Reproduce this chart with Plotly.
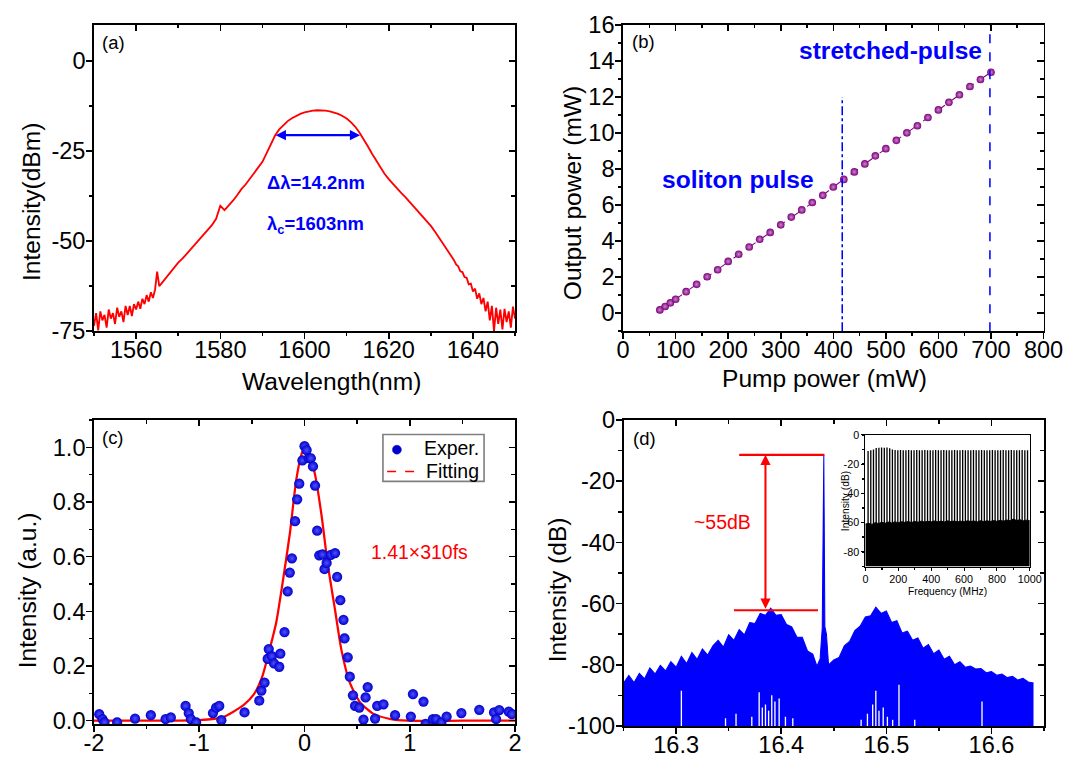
import plotly.graph_objects as go

FONT = "Liberation Sans, Arial, Helvetica, sans-serif"
# the returned picture maps page px -> picture px as  P = 0.976*page + 7 ; compensate
SC = 1 / 0.976
OFF = 7.0
FW, FH = 1089, 775


def fs(v):
    return v * SC


# ---------------- (a) optical spectrum ----------------
spec_wl = [
    1550.0, 1550.5, 1551.0, 1551.5, 1552.0, 1552.5, 1553.0, 1553.5, 1554.0, 1554.5,
    1555.0, 1555.5, 1556.0, 1556.5, 1557.0, 1557.5, 1558.0, 1558.5, 1559.0, 1559.5,
    1560.0, 1560.5, 1561.0, 1561.5, 1562.0, 1562.5, 1563.0, 1563.5, 1564.0, 1564.5,
    1565.0, 1565.5, 1566.0,
    1567, 1568, 1569, 1570, 1571, 1572, 1573, 1574, 1575, 1576,
    1577, 1578, 1579, 1580, 1581, 1582, 1583, 1584, 1585, 1586,
    1587, 1588, 1589, 1590, 1591, 1592, 1593, 1594, 1595, 1596,
    1597, 1598, 1599, 1600, 1601, 1602, 1603, 1604, 1605, 1606,
    1607, 1608, 1609, 1610, 1611, 1612, 1613, 1614, 1615, 1616,
    1617, 1618, 1619, 1620, 1621, 1622, 1623, 1624, 1625, 1626,
    1627, 1628, 1629, 1630, 1631, 1632, 1633, 1634, 1635,
    1635.5, 1636.0, 1636.5, 1637.0, 1637.5, 1638.0, 1638.5, 1639.0, 1639.5, 1640.0,
    1640.5, 1641.0, 1641.5, 1642.0, 1642.5, 1643.0, 1643.5, 1644.0, 1644.5, 1645.0,
    1645.5, 1646.0, 1646.5, 1647.0, 1647.5, 1648.0, 1648.5, 1649.0, 1649.5, 1650.0]
spec_dbm = [
    -73.5, -70.0, -74.8, -69.5, -72.0, -70.5, -74.0, -69.0, -71.5, -70.0,
    -73.0, -68.5, -71.0, -69.5, -72.5, -68.0, -70.5, -68.0, -70.8, -67.5,
    -69.0, -66.8, -68.8, -66.0, -67.5, -65.0, -66.8, -64.2, -65.8, -63.5,
    -58.5, -62.5, -61.8,
    -60.3, -59.0, -57.4, -56.0, -54.9, -53.6, -52.4, -51.0, -49.8, -48.5,
    -47.0, -45.6, -43.8, -40.2, -41.4, -40.2, -38.8, -37.3, -35.6, -34.3,
    -32.8, -31.3, -29.7, -28.0, -25.6, -23.0, -20.7, -19.0, -17.8, -16.7,
    -15.9, -15.2, -14.7, -14.3, -14.0, -13.8, -13.7, -13.7, -13.8, -14.0,
    -14.3, -14.7, -15.3, -16.0, -17.0, -18.2, -19.8, -21.6, -23.6, -25.7,
    -27.7, -29.6, -31.3, -32.8, -34.2, -35.5, -36.7, -37.9, -39.2, -40.4,
    -41.6, -42.9, -44.3, -45.8, -47.4, -49.1, -50.8, -52.6, -54.4,
    -55.3, -56.5, -57.0, -58.4, -58.6, -60.0, -60.2, -62.0, -61.8, -64.0,
    -63.2, -66.0, -64.5, -67.5, -65.8, -69.5, -66.8, -72.0, -68.0, -75.0,
    -68.5, -73.0, -69.0, -74.5, -68.8, -72.5, -69.5, -74.0, -68.2, -71.5]
fwhm_left, fwhm_right, fwhm_level = 1592.8, 1613.2, -20.6
a_ytickvals = [-75, -50, -25, 0]
a_yticktext = ["-75", "-50", "-25", "0"]

# ---------------- (b) output vs pump ----------------
pump_mw = [70, 80, 90, 100, 120, 140, 160, 180, 200, 220, 240, 260, 280, 300, 320, 340, 360,
           380, 400, 420, 440, 460, 480, 500, 520, 540, 560, 580, 600, 620, 640, 660, 680, 700]
out_mw = [0.18, 0.37, 0.57, 0.77, 1.19, 1.60, 2.02, 2.41, 2.87, 3.27, 3.67, 4.10, 4.48, 4.90,
          5.33, 5.73, 6.14, 6.54, 7.00, 7.42, 7.84, 8.28, 8.73, 9.13, 9.59, 10.01, 10.40,
          10.86, 11.28, 11.70, 12.12, 12.58, 12.97, 13.37]
soliton_pump, soliton_top = 417, 12.0
stretched_pump, stretched_top = 698, 16.0

# ---------------- (c) autocorrelation ----------------
exp_t = [-1.95, -1.92, -1.90, -1.78, -1.61, -1.46, -1.32, -1.27, -1.13, -1.10,
         -1.08, -1.03, -0.87, -0.84, -0.81, -0.79, -0.57, -0.43, -0.41, -0.38,
         -0.35, -0.34, -0.31, -0.29, -0.24, -0.23, -0.19, -0.16, -0.14, -0.12,
         -0.09, -0.07, -0.05, -0.02, 0.00, 0.02, 0.04, 0.06, 0.08, 0.10,
         0.12, 0.14, 0.17, 0.19, 0.21, 0.25, 0.29, 0.31, 0.34, 0.37,
         0.38, 0.41, 0.43, 0.46, 0.48, 0.52, 0.56, 0.58, 0.60, 0.67,
         0.69, 0.75, 0.86, 1.01, 1.03, 1.13, 1.15, 1.22, 1.25, 1.30,
         1.35, 1.49, 1.66, 1.80, 1.82, 1.85, 1.94, 1.97]
exp_i = [0.024, 0.006, -0.006, -0.006, 0.008, 0.020, 0.006, 0.012, 0.054, 0.028,
         0.006, -0.006, 0.028, 0.048, 0.054, 0.002, 0.030, 0.073, 0.110, 0.139,
         0.226, 0.262, 0.236, 0.210, 0.197, 0.245, 0.324, 0.473, 0.542, 0.594,
         0.730, 0.810, 0.867, 0.952, 1.004, 0.990, 0.960, 0.960, 0.930, 0.860,
         0.695, 0.605, 0.608, 0.554, 0.577, 0.607, 0.613, 0.526, 0.441, 0.369,
         0.301, 0.232, 0.161, 0.093, 0.054, 0.048, 0.004, 0.085, 0.123, 0.008,
         0.054, 0.060, 0.020, 0.015, 0.097, 0.070, -0.012, 0.006, 0.006, -0.006,
         0.015, 0.028, 0.040, 0.030, 0.006, 0.039, 0.033, 0.024]
fit_t = [-2.0, -1.5, -1.0, -0.78, -0.58, -0.48, -0.40, -0.34, -0.27, -0.21,
         -0.14, -0.08, -0.03, 0.0, 0.04, 0.10, 0.16, 0.22, 0.29, 0.35,
         0.43, 0.53, 0.66, 0.82, 0.98, 1.5, 2.0]
fit_i = [0.0, 0.0, 0.002, 0.012, 0.057, 0.097, 0.163, 0.248, 0.357, 0.50,
         0.683, 0.877, 0.973, 1.0, 0.98, 0.90, 0.756, 0.574, 0.405, 0.26,
         0.139, 0.066, 0.024, 0.006, 0.0, 0.0, 0.0]
c_xtickvals = [-2, -1, 0, 1, 2]
c_xticktext = ["-2", "-1", "0", "1", "2"]
legend_labels = ["Exper.", "Fitting"]

# ---------------- (d) RF spectrum ----------------
rf_f = [16.250, 16.255, 16.260, 16.265, 16.270, 16.275, 16.280, 16.285, 16.290, 16.295,
        16.300, 16.305, 16.310, 16.315, 16.320, 16.325, 16.330, 16.335, 16.340, 16.345,
        16.350, 16.355, 16.360, 16.365, 16.370, 16.375, 16.380, 16.385, 16.390, 16.395,
        16.400, 16.405, 16.410, 16.415, 16.420, 16.425, 16.430, 16.434, 16.437, 16.439,
        16.4405, 16.4415, 16.443, 16.445, 16.450, 16.455, 16.460, 16.465, 16.470, 16.475,
        16.480, 16.485, 16.490, 16.495, 16.500, 16.505, 16.510, 16.515, 16.520, 16.525,
        16.530, 16.535, 16.540, 16.545, 16.550, 16.555, 16.560, 16.565, 16.570, 16.575,
        16.580, 16.585, 16.590, 16.595, 16.600, 16.605, 16.610, 16.615, 16.620, 16.625,
        16.630, 16.635, 16.640]
rf_db = [-86.0, -83.5, -85.8, -82.8, -84.6, -81.0, -83.0, -80.2, -82.0, -79.0,
         -80.8, -77.2, -79.6, -76.0, -78.2, -74.8, -76.8, -73.8, -72.0, -74.2,
         -70.2, -72.0, -68.5, -70.2, -66.2, -66.5, -63.2, -63.8, -61.5, -63.8,
         -63.6, -66.8, -67.6, -71.0, -71.0, -75.5, -76.5, -80.5, -78.0, -68.0,
         -11.3, -67.5, -70.0, -80.0, -78.4, -77.6, -73.8, -72.4, -68.8, -67.4,
         -64.4, -64.0, -61.2, -63.2, -62.4, -66.2, -65.6, -69.6, -69.0, -72.0,
         -71.2, -74.6, -73.4, -76.4, -75.2, -78.2, -77.2, -80.0, -79.0, -80.8,
         -80.4, -81.4, -81.2, -82.6, -82.2, -83.4, -83.0, -84.2, -83.8, -85.0,
         -84.4, -85.6, -86.0]
dip_f = [16.305, 16.347, 16.357, 16.372, 16.379, 16.382, 16.385, 16.388, 16.391, 16.394,
         16.398, 16.404, 16.411, 16.476, 16.482, 16.487, 16.490, 16.493, 16.497, 16.501,
         16.506, 16.512, 16.527, 16.591]
dip_db = [-88.5, -97.5, -96.0, -97.0, -89.0, -94.0, -93.0, -95.0, -90.0, -92.0,
          -91.0, -97.0, -97.5, -98.0, -96.0, -93.0, -88.5, -95.0, -94.0, -97.0,
          -98.0, -86.5, -98.0, -92.0]
rf_floor = -100
carrier_level, carrier_from, carrier_to = -11.4, 16.36, 16.441
pedestal_level, pedestal_from, pedestal_to = -62.2, 16.355, 16.435
snr_arrow_f = 16.385
d_ytickvals = [-100, -80, -60, -40, -20, 0]
d_yticktext = ["-100", "-80", "-60", "-40", "-20", "0"]

# ---------------- inset: wide-span RF comb ----------------
comb_f = [16.4, 32.9, 49.3, 65.8, 82.2, 98.6, 115.1, 131.5, 148.0, 164.4,
          180.8, 197.3, 213.7, 230.2, 246.6, 263.0, 279.5, 295.9, 312.4, 328.8,
          345.2, 361.7, 378.1, 394.6, 411.0, 427.4, 443.9, 460.3, 476.8, 493.2,
          509.6, 526.1, 542.5, 559.0, 575.4, 591.8, 608.3, 624.7, 641.2, 657.6,
          674.0, 690.5, 706.9, 723.4, 739.8, 756.2, 772.7, 789.1, 805.6, 822.0,
          838.4, 854.9, 871.3, 887.8, 904.2, 920.6, 937.1, 953.5, 970.0, 986.4]
comb_db = [-11.0, -10.5, -10.0, -9.0, -8.8, -8.7, -8.8, -8.6, -9.2, -10.0,
           -10.3, -10.5, -10.4, -10.6, -10.5, -10.4, -10.6, -10.5, -10.4, -10.5,
           -10.6, -10.4, -10.5, -10.5, -10.6, -10.4, -10.5, -10.5, -10.4, -10.6,
           -10.5, -10.5, -10.4, -10.6, -10.5, -10.4, -10.5, -10.5, -10.6, -10.4,
           -10.5, -10.5, -10.4, -10.5, -10.6, -10.5, -10.4, -10.5, -10.5, -10.6,
           -10.4, -10.5, -10.5, -10.4, -10.6, -10.5, -10.5, -10.4, -10.5, -10.5]
comb_base = -62
floor_f = [0, 20, 40, 60, 80, 100, 120, 140, 160, 180,
           200, 220, 240, 260, 280, 300, 320, 340, 360, 380,
           400, 420, 440, 460, 480, 500, 520, 540, 560, 580,
           600, 620, 640, 660, 680, 700, 720, 740, 760, 780,
           800, 820, 840, 860, 880, 900, 920, 940, 960, 980, 1000]
floor_db = [-61.0, -60.5, -61.2, -60.0, -60.6, -59.8, -60.4, -59.6, -60.2, -59.5,
            -60.0, -59.4, -59.8, -59.3, -59.9, -59.2, -59.7, -59.0, -59.6, -59.1,
            -59.5, -58.9, -59.4, -59.0, -59.6, -58.8, -59.3, -58.9, -59.5, -59.0,
            -59.4, -58.8, -59.2, -58.9, -59.5, -58.7, -59.3, -58.8, -59.2, -58.6,
            -59.1, -58.5, -59.0, -58.2, -58.8, -57.5, -58.6, -58.0, -58.8, -58.3, -58.8]
inset_floor = -90
in_ytickvals = [-80, -60, -40, -20, 0]
in_yticktext = ["-80", "-60", "-40", "-20", "0"]


def px(x):
    return (x - OFF) * SC / FW


def py(y):
    return 1 - (y - OFF) * SC / FH


A_X = [px(91.3), px(513.9)]
A_Y = [py(328.3), py(19)]
B_X = [px(622.3), px(1044.3)]
B_Y = [py(328.3), py(19)]
C_X = [px(91.3), px(513.9)]
C_Y = [py(725), py(418)]
D_X = [px(622.8), px(1044.8)]
D_Y = [py(727), py(418)]
I_X = [px(865.5), px(1030.5)]
I_Y = [py(566), py(433)]

BLUE = "#0000ff"
DOT = "#0000cc"
RED = "#ff0000"
PURPLE = "#800080"

traces = []

# (a)
traces.append(go.Scatter(x=spec_wl, y=spec_dbm, mode="lines", line=dict(color=RED, width=fs(1.8)),
                         xaxis="x", yaxis="y", showlegend=False, hoverinfo="skip"))
# (b)
traces.append(go.Scatter(x=pump_mw, y=out_mw, mode="lines+markers",
                         line=dict(color=PURPLE, width=fs(1), dash="dash"),
                         marker=dict(size=fs(7.5), color=PURPLE,
                                     gradient=dict(type="radial", color="#c78ac7")),
                         xaxis="x2", yaxis="y2", showlegend=False))
traces.append(go.Scatter(x=[soliton_pump, soliton_pump], y=[-1, soliton_top], mode="lines",
                         line=dict(color=BLUE, width=fs(1.5), dash="dashdot"),
                         xaxis="x2", yaxis="y2", showlegend=False))
traces.append(go.Scatter(x=[stretched_pump, stretched_pump], y=[-1, stretched_top], mode="lines",
                         line=dict(color=BLUE, width=fs(1.5), dash="dash"),
                         xaxis="x2", yaxis="y2", showlegend=False))
# (c)
traces.append(go.Scatter(x=fit_t, y=fit_i, mode="lines", name=legend_labels[1],
                         line=dict(color=RED, width=fs(2.2), shape="spline", smoothing=0.6),
                         xaxis="x3", yaxis="y3", showlegend=False))
traces.append(go.Scatter(x=exp_t, y=exp_i, mode="markers", name=legend_labels[0],
                         marker=dict(size=fs(10), color=DOT,
                                     gradient=dict(type="radial", color="#5050ff")),
                         xaxis="x3", yaxis="y3", showlegend=False))
# (d)
traces.append(go.Scatter(x=[rf_f[0], rf_f[-1]], y=[rf_floor, rf_floor], mode="lines",
                         line=dict(color=BLUE, width=0), xaxis="x4", yaxis="y4", showlegend=False))
traces.append(go.Scatter(x=rf_f, y=rf_db, mode="lines", line=dict(color=BLUE, width=fs(1)),
                         fill="tonexty", fillcolor=BLUE, xaxis="x4", yaxis="y4", showlegend=False))
dx, dy = [], []
for f, v in zip(dip_f, dip_db):
    dx += [f, f, None]
    dy += [rf_floor, v, None]
traces.append(go.Scatter(x=dx, y=dy, mode="lines", line=dict(color="white", width=fs(1.3)),
                         xaxis="x4", yaxis="y4", showlegend=False))
traces.append(go.Scatter(x=[carrier_from, carrier_to], y=[carrier_level, carrier_level], mode="lines",
                         line=dict(color=RED, width=fs(2)), xaxis="x4", yaxis="y4", showlegend=False))
traces.append(go.Scatter(x=[pedestal_from, pedestal_to], y=[pedestal_level, pedestal_level], mode="lines",
                         line=dict(color=RED, width=fs(2)), xaxis="x4", yaxis="y4", showlegend=False))
# inset
traces.append(go.Scatter(x=[floor_f[0], floor_f[-1]], y=[inset_floor, inset_floor], mode="lines",
                         line=dict(color="black", width=0), xaxis="x5", yaxis="y5", showlegend=False))
traces.append(go.Scatter(x=floor_f, y=floor_db, mode="lines", line=dict(color="black", width=1),
                         fill="tonexty", fillcolor="black", xaxis="x5", yaxis="y5", showlegend=False))
cx, cy = [], []
for f, v in zip(comb_f, comb_db):
    cx += [f, f, None]
    cy += [comb_base, v, None]
traces.append(go.Scatter(x=cx, y=cy, mode="lines", line=dict(color="black", width=fs(1.3)),
                         xaxis="x5", yaxis="y5", showlegend=False))

TICKFONT = dict(family=FONT, size=fs(23), color="black")
LW, TW, TL, MTL = fs(1.6), fs(1.5), fs(6), fs(3.5)


def base_axis(domain, anchor, rng, letter, **kw):
    d = dict(domain=domain, anchor=anchor, range=rng, showline=True, linecolor="black", linewidth=LW,
             mirror=True, ticks="outside", ticklen=TL, tickwidth=TW, tickcolor="black",
             showgrid=False, zeroline=False, tickfont=TICKFONT, fixedrange=True,
             ticklabelstandoff=(-9 if letter == "x" else -4))
    d.update(kw)
    return d


def minor(dtick, tick0=0, ticks="outside", ln=MTL):
    return dict(ticks=ticks, ticklen=ln, tickwidth=TW, tickcolor="black", tickmode="linear",
                dtick=dtick, tick0=tick0, showgrid=False)


layout = dict(
    width=FW, height=FH, margin=dict(l=0, r=0, t=0, b=0, pad=0),
    paper_bgcolor="white", plot_bgcolor="white",
    font=dict(family=FONT, color="black"),
    showlegend=False,
)

layout["xaxis"] = base_axis(A_X, "y", [1550, 1650], "x", tickmode="linear", tick0=1560, dtick=20,
                            minor=minor(10, 1550))
layout["yaxis"] = base_axis(A_Y, "x", [-75, 10], "y", tickmode="array", tickvals=a_ytickvals,
                            ticktext=a_yticktext, minor=minor(12.5, 0))
layout["xaxis2"] = base_axis(B_X, "y2", [0, 800], "x", tickmode="linear", tick0=0, dtick=100, minor=minor(50, 0))
layout["yaxis2"] = base_axis(B_Y, "x2", [-1, 16], "y", tickmode="linear", tick0=0, dtick=2, minor=minor(1, 0))
layout["xaxis3"] = base_axis(C_X, "y3", [-2, 2], "x", tickmode="array", tickvals=c_xtickvals,
                             ticktext=c_xticktext, minor=minor(0.5, 0))
layout["yaxis3"] = base_axis(C_Y, "x3", [-0.012, 1.10], "y", tickmode="linear", tick0=0, dtick=0.2,
                             tickformat=".1f", minor=minor(0.1, 0))
layout["xaxis4"] = base_axis(D_X, "y4", [16.25, 16.65], "x", tickmode="linear", tick0=16.3, dtick=0.1,
                             tickformat=".1f", minor=minor(0.05, 16.25))
layout["yaxis4"] = base_axis(D_Y, "x4", [-100, 0], "y", tickmode="array", tickvals=d_ytickvals,
                             ticktext=d_yticktext, minor=minor(10, 0))
INFONT = dict(family=FONT, size=fs(10.5), color="black")
layout["xaxis5"] = base_axis(I_X, "y5", [0, 1000], "x", tickmode="linear", tick0=0, dtick=200, tickfont=INFONT,
                             ticklen=fs(3), linewidth=fs(1), tickwidth=fs(1), ticklabelstandoff=-1,
                             minor=minor(100, 0, ln=fs(2)))
layout["yaxis5"] = base_axis(I_Y, "x5", [-90, 0], "y", tickmode="array", tickvals=in_ytickvals,
                             ticktext=in_yticktext, tickfont=INFONT, ticklen=fs(3), linewidth=fs(1),
                             tickwidth=fs(1), ticklabelstandoff=0, minor=minor(10, 0, ln=fs(2)))

# inward mirrored ticks on top/right
mirror_specs = [
    (1, 6, [1550, 1650], 1560, 20, 10, [-75, 10], 0, 25, 12.5),
    (2, 7, [0, 800], 0, 100, 50, [-1, 16], 0, 2, 1),
    (3, 8, [-2, 2], 0, 1, 0.5, [-0.012, 1.10], 0, 0.2, 0.1),
    (4, 9, [16.25, 16.65], 16.3, 0.1, 0.05, [-100, 0], 0, 20, 10),
]
for nb, nn, xr, xt0, xdt, xmdt, yr, yt0, ydt, ymdt in mirror_specs:
    bx = "x" if nb == 1 else f"x{nb}"
    by = "y" if nb == 1 else f"y{nb}"
    bxl = "xaxis" if nb == 1 else f"xaxis{nb}"
    byl = "yaxis" if nb == 1 else f"yaxis{nb}"
    layout[f"xaxis{nn}"] = dict(overlaying=bx, anchor=by, side="top", range=xr, domain=layout[bxl]["domain"],
                                tickmode="linear", tick0=xt0, dtick=xdt, ticks="inside", ticklen=TL,
                                tickwidth=TW, tickcolor="black", showticklabels=False, showline=False,
                                showgrid=False, zeroline=False, fixedrange=True,
                                minor=minor(xmdt, xt0, ticks="inside"))
    layout[f"yaxis{nn}"] = dict(overlaying=by, anchor=bx, side="right", range=yr, domain=layout[byl]["domain"],
                                tickmode="linear", tick0=yt0, dtick=ydt, ticks="inside", ticklen=TL,
                                tickwidth=TW, tickcolor="black", showticklabels=False, showline=False,
                                showgrid=False, zeroline=False, fixedrange=True,
                                minor=minor(ymdt, yt0, ticks="inside"))
    traces.append(go.Scatter(x=[None], y=[None], xaxis=f"x{nn}", yaxis=by, showlegend=False))
    traces.append(go.Scatter(x=[None], y=[None], xaxis=bx, yaxis=f"y{nn}", showlegend=False))

ann = []


def ptext(text, x, y, size=24, angle=0, xanchor="center", yanchor="middle", color="black"):
    ann.append(dict(text=text, x=px(x), y=py(y), xref="paper", yref="paper", showarrow=False,
                    textangle=angle, xanchor=xanchor, yanchor=yanchor,
                    font=dict(family=FONT, size=fs(size), color=color)))


# axis titles
ptext("Intensity(dBm)", 28, 198, angle=-90)
ptext("Wavelength(nm)", 330, 379)
ptext("Output power (mW)", 571, 189, angle=-90)
ptext("Pump power (mW)", 824, 376)
ptext("Intensity (a.u.)", 24, 590, angle=-90)
ptext("Intensity (dB)", 556, 590, angle=-90)
ptext("Intensity (dB)", 845, 500, size=10, angle=-90)
ptext("Frequency (MHz)", 948, 591, size=10)
# panel labels
ptext("(a)", 97, 37, size=18, xanchor="left")
ptext("(b)", 629, 36, size=18, xanchor="left")
ptext("(c)", 97, 436, size=18, xanchor="left")
ptext("(d)", 630, 437, size=18, xanchor="left")

# legend of panel (c), drawn as a framed key
shapes = [
    dict(type="rect", xref="paper", yref="paper", x0=px(381.3), x1=px(482.8), y0=py(480), y1=py(432.7),
         line=dict(color="#808080", width=fs(1.6)), fillcolor="white", layer="above"),
    dict(type="circle", xref="paper", yref="paper", x0=px(390.8), x1=px(399.8), y0=py(452.5), y1=py(443.5),
         line=dict(color=DOT, width=0.5), fillcolor=DOT, layer="above"),
    dict(type="line", xref="paper", yref="paper", x0=px(385.5), x1=px(416), y0=py(470), y1=py(470),
         line=dict(color=RED, width=fs(1.6), dash="dash"), layer="above"),
]
ptext(legend_labels[0], 420.5, 446.5, size=19, xanchor="left")
ptext(legend_labels[1], 422.5, 469.5, size=19, xanchor="left")


def dtext(text, x, y, xr, yr, size, color, bold=False):
    ann.append(dict(text=f"<b>{text}</b>" if bold else text, x=x, y=y, xref=xr, yref=yr, showarrow=False,
                    xanchor="center", yanchor="middle", font=dict(family=FONT, size=fs(size), color=color)))


dtext("Δλ=14.2nm", 1602.8, -33.8, "x", "y", 18, BLUE, bold=True)
dtext("λ<sub>c</sub>=1603nm", 1602.6, -45.5, "x", "y", 18, BLUE, bold=True)
dtext("soliton pulse", 218, 7.4, "x2", "y2", 24, BLUE, bold=True)
dtext("stretched-pulse", 509, 14.6, "x2", "y2", 24, BLUE, bold=True)
dtext("1.41×310fs", 1.088, 0.616, "x3", "y3", 19, RED)
dtext("~55dB", 16.344, -33.5, "x4", "y4", 19, RED)

# arrows
ann.append(dict(text="", x=fwhm_right, y=fwhm_level, ax=fwhm_left, ay=fwhm_level,
                xref="x", yref="y", axref="x", ayref="y", showarrow=True, arrowhead=2, arrowsize=1,
                arrowwidth=fs(2), arrowcolor=BLUE, arrowside="end+start", standoff=0, startstandoff=0))
ann.append(dict(text="", x=snr_arrow_f, y=carrier_level, ax=snr_arrow_f, ay=pedestal_level,
                xref="x4", yref="y4", axref="x4", ayref="y4", showarrow=True, arrowhead=2, arrowsize=1,
                arrowwidth=fs(2), arrowcolor=RED, arrowside="end+start", standoff=0, startstandoff=0))

layout["annotations"] = ann
layout["shapes"] = shapes

fig = go.Figure(data=traces, layout=layout)
fig.write_html("out.html", config=dict(displayModeBar=False, staticPlot=True),
               post_script="document.body.style.margin='0';document.body.style.padding='0';"
                           "document.documentElement.style.overflow='hidden';document.body.style.overflow='hidden';")
